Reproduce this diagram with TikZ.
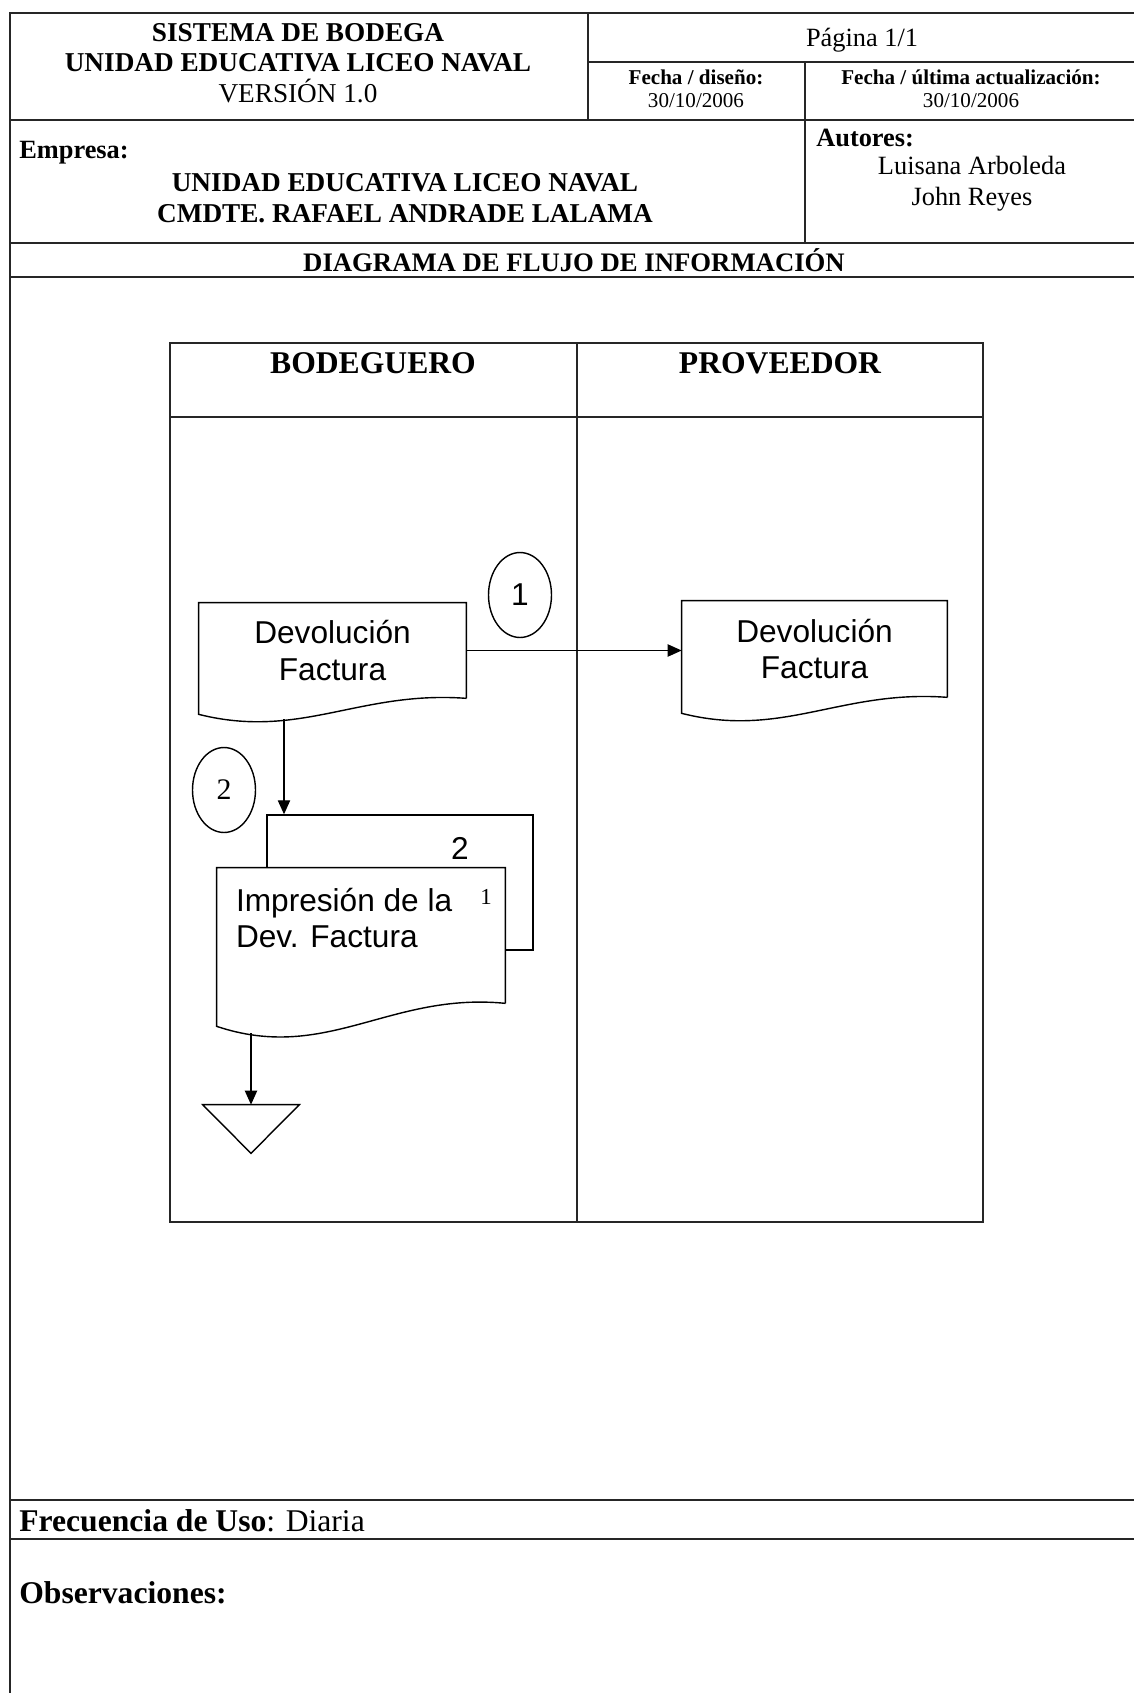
\documentclass[tikz,border=0pt]{standalone}
\usepackage{fontspec}
\setmainfont{Liberation Serif}
\newfontfamily\arialfont{Liberation Sans}
\usepackage{tikz}
\usetikzlibrary{
    shapes.geometric,
    arrows.meta,
    positioning,
    calc
}
\newcommand{\docfont}{\arialfont\fontsize{18}{20.7}\selectfont}
\tikzstyle{arrow} = [
    -{Triangle[length=8pt,width=7pt]},
    line width=0.8pt
]
\tikzstyle{formline} = [
    line width=1.2pt,
    black!85
]
\tikzstyle{lane} = [
    line width=0.8pt,
    black!85
]
\tikzstyle{docbox} = [
    rectangle,
    inner sep=0pt,
    align=center,
    font=\docfont
]
\tikzstyle{connector} = [
    ellipse,
    draw,
    line width=0.8pt,
    minimum width=1.26cm,
    minimum height=1.7cm,
    inner sep=0pt
]
\tikzstyle{lanehead} = [
    font=\bfseries\fontsize{18}{21}\selectfont
]
% document outline under a node: wavy bottom
\newcommand{\docoutline}[3][]{%
    \draw[line width=0.8pt, #1] (#2.south east) -- (#2.north east) -- (#2.north west)
        -- ($(#2.south west)+(0,#3)$)
        .. controls ($(#2.south west)!0.38!(#2.south east)+(0,2.6*#3)$)
        and ($(#2.south west)!0.6!(#2.south east)+(0,-0.5*#3)$) .. (#2.south east);}

\begin{document}
\begin{tikzpicture}[x=0.02cm, y=-0.02cm]
        \useasboundingbox[fill=white] (0,0) rectangle (1134,1693);

        % Form frame
        \draw[formline] (10,1693) -- (10,13) -- (1134,13);
        \draw[formline] (588,62) -- (1134,62);
        \draw[formline] (10,120) -- (1134,120);
        \draw[formline] (10,243) -- (1134,243);
        \draw[formline] (10,277) -- (1134,277);
        \draw[formline] (588,13) -- (588,120);
        \draw[formline] (805,62) -- (805,243);
        \draw[formline] (10,1500) -- (1134,1500);
        \draw[formline] (10,1539) -- (1134,1539);

        % Header texts
        \node[align=center, font=\fontsize{15.5}{17.3}\selectfont] (titulo) at (298,63)
            {\textbf{SISTEMA DE BODEGA}\\\textbf{UNIDAD EDUCATIVA LICEO NAVAL}\\VERSIÓN 1.0};
        \node[font=\fontsize{15}{17.3}\selectfont] (pagina) at (862,40) {Página 1/1};
        \node[align=center, font=\fontsize{12}{13}\selectfont] (fdiseno) at (696,88.5)
            {\textbf{Fecha / diseño:}\\30/10/2006};
        \node[align=center, font=\fontsize{12}{13}\selectfont] (factual) at (971,88.5)
            {\textbf{Fecha / última actualización:}\\30/10/2006};
        \node[anchor=west, inner sep=0pt, font=\bfseries\fontsize{15}{17.3}\selectfont] (empresa) at (19,153) {Empresa:};
        \node[align=center, font=\bfseries\fontsize{15.5}{17.3}\selectfont] (empnombre) at (405,198)
            {UNIDAD EDUCATIVA LICEO NAVAL\\CMDTE. RAFAEL ANDRADE LALAMA};
        \node[anchor=west, inner sep=0pt, font=\bfseries\fontsize{15}{17.3}\selectfont] (autores) at (816,138) {Autores:};
        \node[align=center, font=\fontsize{15}{17.6}\selectfont] (autnombres) at (972,183.5)
            {Luisana Arboleda\\John Reyes};
        \node[font=\bfseries\fontsize{15.2}{17.3}\selectfont] (diagtitulo) at (574,260)
            {DIAGRAMA DE FLUJO DE INFORMACIÓN};

        % Swimlanes
        \draw[lane] (170,343) rectangle (983,1222);
        \draw[lane] (170,417) -- (983,417);
        \draw[lane] (577,343) -- (577,1222);
        \node[lanehead] (bodeguero) at (373,363) {BODEGUERO};
        \node[lanehead] (proveedor) at (780,363) {PROVEEDOR};

        % Documents
        \node[docbox, minimum width=5.34cm, minimum height=1.9cm] (devbod) at (332.5,650.5) {Devolución\\Factura};
        \docoutline{devbod}{16}
        \node[docbox, minimum width=5.3cm, minimum height=1.92cm] (devprov) at (814.5,649) {Devolución\\Factura};
        \docoutline{devprov}{16}

        % Step connectors
        \node[connector, font=\docfont] (paso1) at (520,595) {1};
        \node[connector, font=\fontsize{17}{20}\selectfont] (paso2) at (224,790) {2};

        % Printed copies
        \node[draw, fill=white, line width=0.8pt, minimum width=5.32cm, minimum height=2.7cm, inner sep=0pt] (copia2) at (400,882.5) {};
        \node[docbox, minimum width=5.76cm, minimum height=2.7cm] (impdev) at (361,935.5) {};
        \docoutline[fill=white]{impdev}{23}
        \node[font=\docfont] (num2) at (460,848) {2};
        \node[font=\fontsize{13}{15}\selectfont] (num1) at (486,897) {1};
        \node[docbox, align=left, anchor=west] (imptxt) at ($(impdev.north west)+(19,50.5)$)
            {Impresión de la\\Dev. Factura};

        % Archive
        \node[minimum width=1.92cm, minimum height=0.96cm, inner sep=0pt] (archivo) at (251,1129) {};
        \draw[line width=0.8pt] (archivo.north west) -- (archivo.north east) -- (archivo.south) -- cycle;

        % Flow
        \draw[arrow] (devbod.east) -- (devbod.east -| devprov.west);
        \coordinate (devbodsal) at (284,719);
        \draw[arrow] (devbodsal) -- (devbodsal |- copia2.north);
        \coordinate (impdevsal) at (251,1033);
        \draw[arrow] (impdevsal) -- (archivo.north);

        % Footer
        \node[anchor=west, inner sep=0pt, font=\fontsize{18}{20}\selectfont] (frecuencia) at (19,1521)
            {\textbf{Frecuencia de Uso}: Diaria};
        \node[anchor=west, inner sep=0pt, font=\bfseries\fontsize{18}{20}\selectfont] (observ) at (19,1593)
            {Observaciones:};
\end{tikzpicture}
\end{document}
